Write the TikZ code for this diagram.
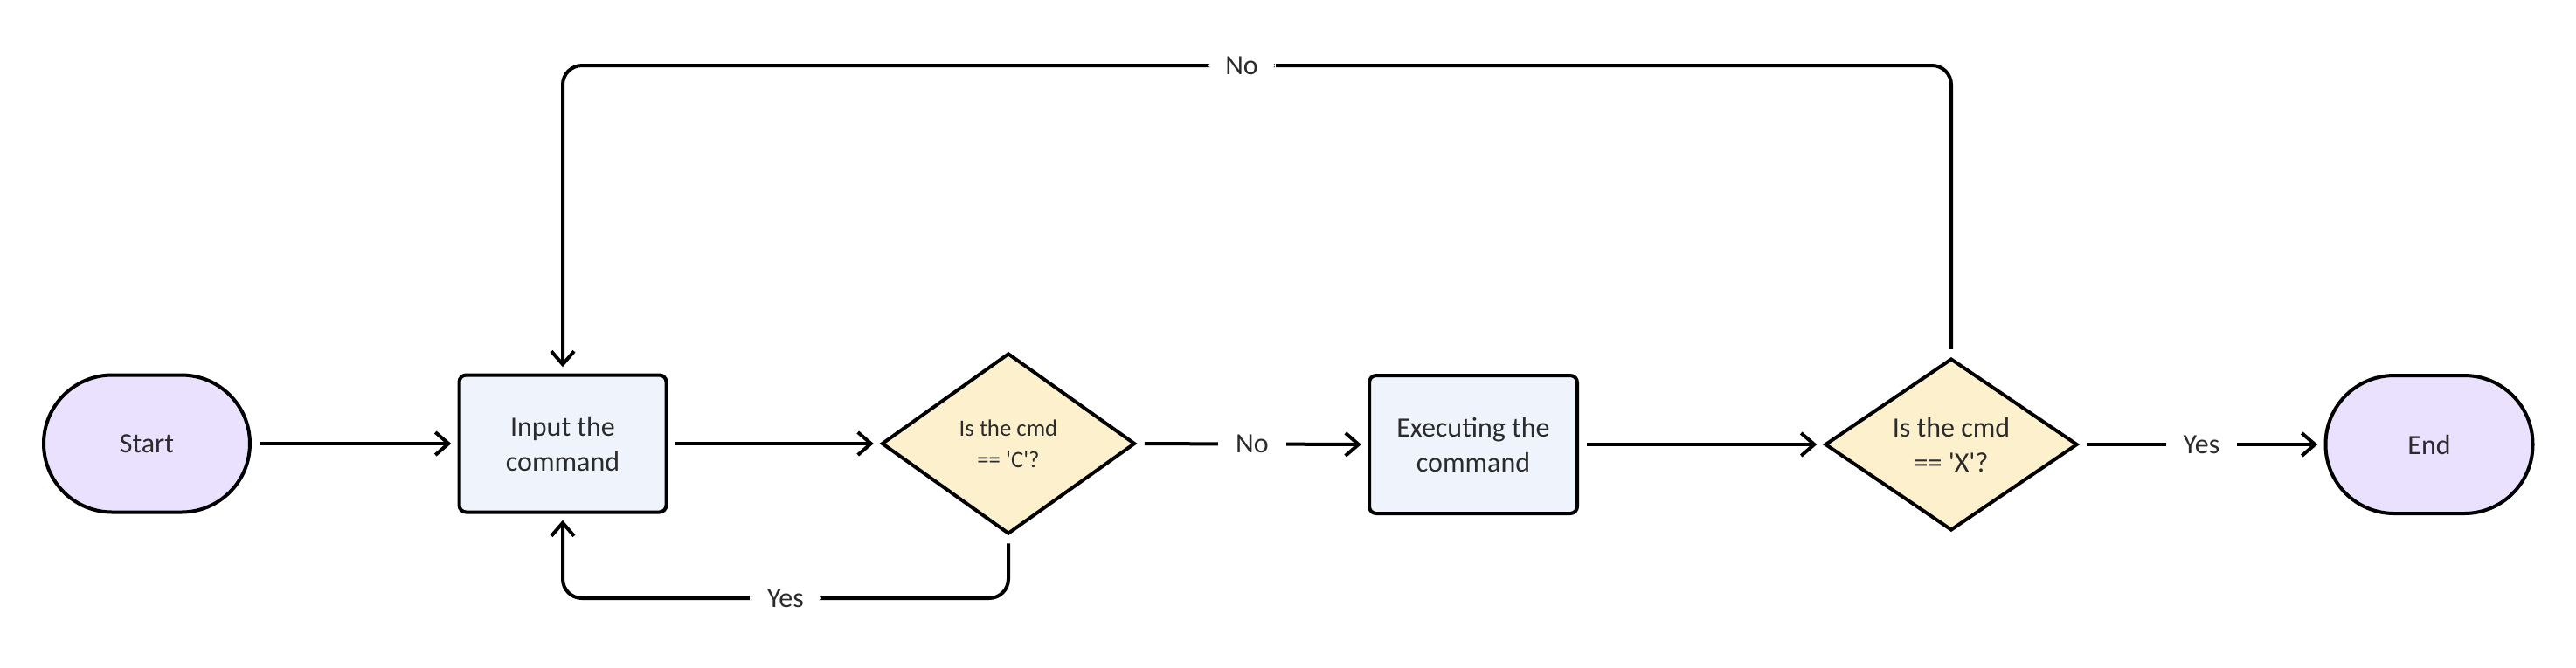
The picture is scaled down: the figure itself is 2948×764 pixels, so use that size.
\documentclass[tikz,border=0pt]{standalone}
\usepackage{fontspec}
\setmainfont{Carlito}[Ligatures=TeXOff]
\usetikzlibrary{shapes.geometric,arrows.meta}
\definecolor{termfill}{HTML}{E9E1FD}
\definecolor{boxfill}{HTML}{EEF3FC}
\definecolor{decfill}{HTML}{FDF0CD}
\definecolor{txt}{HTML}{2B2B2B}
\tikzset{
  term/.style={draw=black, line width=1pt, fill=termfill, rectangle, rounded corners=19.6pt,
    minimum width=59pt, minimum height=39.25pt, inner sep=0pt, text=txt, font=\fontsize{8}{10}\selectfont},
  procbox/.style={draw=black, line width=1pt, fill=boxfill, rectangle, rounded corners=2pt,
    minimum width=59.25pt, minimum height=39.25pt, inner sep=0pt, align=center, text=txt,
    font=\fontsize{8}{10}\selectfont},
  decbox/.style={draw=black, line width=1pt, fill=decfill, diamond, inner sep=0pt,
    align=center, text=txt},
  conn/.style={draw=black, line width=1pt, -{Straight Barb[length=3.75pt,width=6.5pt]},
    shorten <=2.2pt, shorten >=1.8pt},
  lbl/.style={fill=white, text=txt, inner xsep=5pt, inner ysep=1pt, font=\fontsize{8}{10}\selectfont}
}
\begin{document}
\begin{tikzpicture}[x=0.25pt,y=-0.25pt]
\useasboundingbox (0,0) rectangle (2948,764);
\node[term] (s) at (168,508) {Start};
\node[procbox] (in) at (644,508) {Input the\\command};
\node[decbox, minimum width=72.5pt, minimum height=51.75pt, font=\fontsize{6.7}{9}\selectfont] (c) at (1154,508) {Is the cmd\\== 'C'?};
\node[procbox, minimum width=59.5pt, minimum height=39.5pt] (ex) at (1686,509) {Executing the\\command};
\node[decbox, minimum width=72.25pt, minimum height=45.5pt, font=\fontsize{8}{10}\selectfont] (x) at (2233,509) {Is the cmd\\== 'X'?};
\node[term, minimum width=59.25pt, minimum height=39.5pt] (e) at (2780,509) {End};
\coordinate (top) at (0,75);
\coordinate (bot) at (0,685);

\draw[conn] (s.east) -- (in.west);
\draw[conn] (in.east) -- (c.west);
\draw[conn] (c.east) -- node[lbl] {No} (ex.west);
\draw[conn] (ex.east) -- (x.west);
\draw[conn] (x.east) -- node[lbl] {Yes} (e.west);
\draw[conn, rounded corners=5.5pt] (c.south) -- (c.south |- bot) -- node[lbl] {Yes} (in.south |- bot) -- (in.south);
\draw[conn, rounded corners=5.5pt] (x.north) -- (x.north |- top) -- node[lbl, pos=0.511] {No} (in.north |- top) -- (in.north);
\end{tikzpicture}
\end{document}
